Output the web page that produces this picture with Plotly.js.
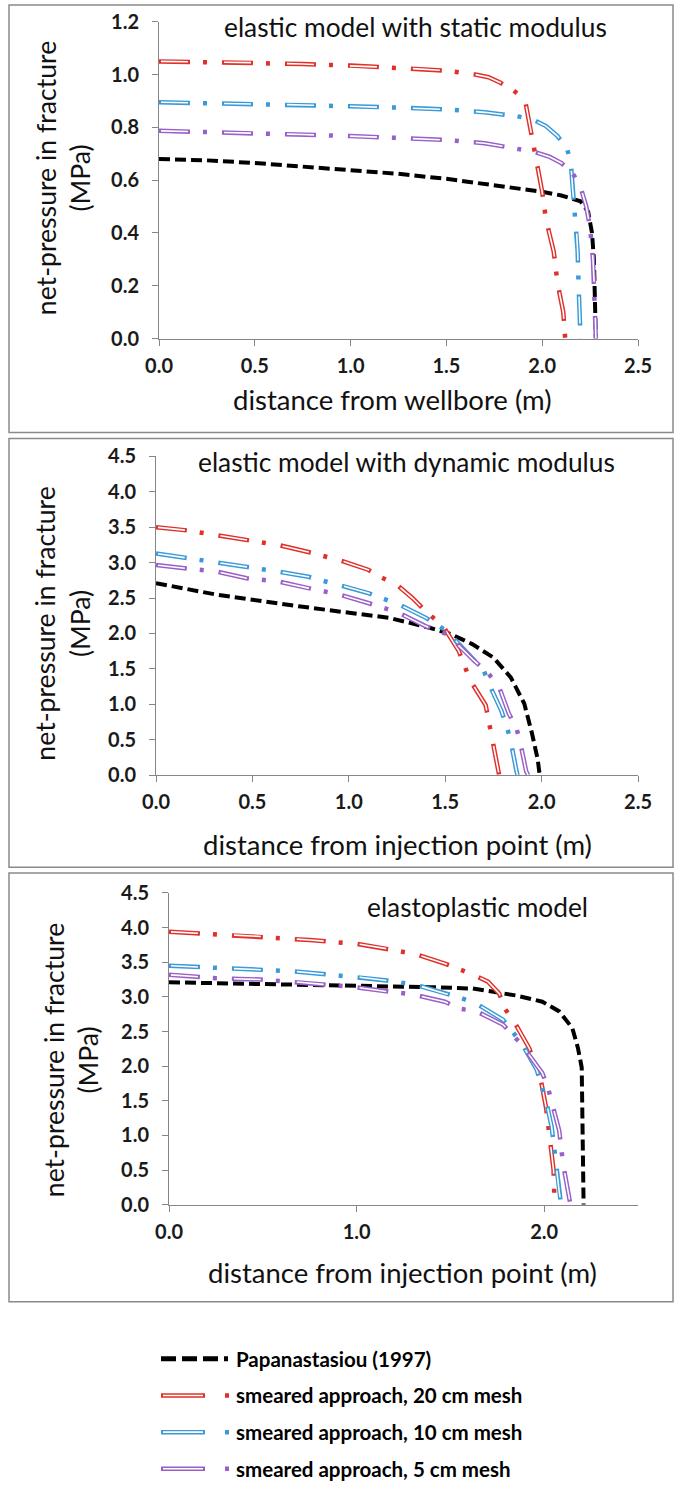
<!DOCTYPE html>
<html>
<head>
<meta charset="utf-8">
<script src="https://cdn.plot.ly/plotly-3.0.1.min.js"></script>
<style>html,body{margin:0;padding:0;background:#fff;}#chart{width:674px;height:1489px;}</style>
</head>
<body>
<div id="chart"></div>
<script>
// ---------- DATA ----------
const seriesNames = ["Papanastasiou (1997)", "smeared approach, 20 cm mesh", "smeared approach, 10 cm mesh", "smeared approach, 5 cm mesh"];
const panelTitles = ["elastic model with static modulus", "elastic model with dynamic modulus", "elastoplastic model"];
const xAxisTitles = ["distance from wellbore (m)", "distance from injection point (m)", "distance from injection point (m)"];
const yAxisTitle = "net-pressure in fracture<br>(MPa)";

// Panel 1: elastic model with static modulus
const papX1 = [0, 0.25, 0.5, 0.75, 1.0, 1.25, 1.5, 1.75, 1.9, 2.0, 2.1, 2.2, 2.24, 2.26, 2.27, 2.275, 2.28];
const papY1 = [0.68, 0.675, 0.665, 0.652, 0.64, 0.624, 0.605, 0.582, 0.566, 0.556, 0.542, 0.52, 0.48, 0.40, 0.30, 0.18, 0.0];
const red1X = [0, 0.25, 0.5, 0.75, 1.0, 1.25, 1.5, 1.65, 1.72, 1.78, 1.85, 1.91, 1.94, 1.97, 2.0, 2.02, 2.06, 2.08, 2.11, 2.12];
const red1Y = [1.05, 1.048, 1.045, 1.04, 1.034, 1.026, 1.015, 1.0, 0.99, 0.97, 0.94, 0.905, 0.79, 0.67, 0.556, 0.45, 0.33, 0.21, 0.10, 0.0];
const blue1X = [0, 0.25, 0.5, 0.75, 1.0, 1.25, 1.5, 1.7, 1.87, 1.95, 2.02, 2.08, 2.13, 2.15, 2.16, 2.175, 2.185, 2.19, 2.195, 2.2];
const blue1Y = [0.895, 0.892, 0.889, 0.885, 0.88, 0.875, 0.868, 0.857, 0.842, 0.83, 0.805, 0.767, 0.72, 0.66, 0.556, 0.46, 0.33, 0.2, 0.09, 0.0];
const purple1X = [0, 0.25, 0.5, 0.75, 1.0, 1.25, 1.5, 1.7, 1.87, 1.96, 2.04, 2.1, 2.16, 2.2, 2.23, 2.25, 2.265, 2.275, 2.28];
const purple1Y = [0.787, 0.783, 0.778, 0.773, 0.767, 0.76, 0.752, 0.74, 0.72, 0.707, 0.688, 0.665, 0.625, 0.575, 0.5, 0.42, 0.3, 0.15, 0.0];

// Panel 2: elastic model with dynamic modulus
const papX2 = [0, 0.31, 0.75, 1.21, 1.42, 1.53, 1.64, 1.75, 1.84, 1.91, 1.95, 1.98, 1.99];
const papY2 = [2.71, 2.55, 2.38, 2.22, 2.08, 1.99, 1.85, 1.66, 1.38, 1.01, 0.59, 0.22, 0.0];
const red2X = [0, 0.16, 0.32, 0.47, 0.64, 0.79, 0.95, 1.10, 1.17, 1.25, 1.33, 1.40, 1.45, 1.49, 1.57, 1.63, 1.71, 1.74, 1.77, 1.78];
const red2Y = [3.5, 3.455, 3.385, 3.315, 3.245, 3.15, 3.035, 2.9, 2.79, 2.686, 2.5, 2.31, 2.2, 2.10, 1.755, 1.336, 0.987, 0.545, 0.10, 0.0];
const blue2X = [0, 0.15, 0.32, 0.47, 0.64, 0.79, 0.95, 1.10, 1.26, 1.40, 1.51, 1.64, 1.70, 1.73, 1.79, 1.82, 1.84, 1.87, 1.875];
const blue2Y = [3.13, 3.07, 3.01, 2.94, 2.87, 2.80, 2.686, 2.57, 2.41, 2.22, 2.03, 1.66, 1.476, 1.27, 0.917, 0.684, 0.475, 0.056, 0.0];
const purple2X = [0, 0.15, 0.32, 0.47, 0.64, 0.79, 0.95, 1.10, 1.26, 1.40, 1.51, 1.65, 1.72, 1.78, 1.83, 1.87, 1.89, 1.92, 1.93];
const purple2Y = [2.966, 2.92, 2.87, 2.78, 2.73, 2.64, 2.55, 2.43, 2.29, 2.10, 1.99, 1.615, 1.45, 1.24, 0.87, 0.66, 0.45, 0.056, 0.0];

// Panel 3: elastoplastic model
const papX3 = [0, 0.94, 1.39, 1.62, 1.85, 1.99, 2.08, 2.15, 2.18, 2.20, 2.205, 2.21];
const papY3 = [3.21, 3.17, 3.14, 3.12, 3.02, 2.93, 2.79, 2.55, 2.26, 1.98, 1.12, 0.0];
const red3X = [0, 0.25, 0.5, 0.75, 1.0, 1.15, 1.31, 1.47, 1.55, 1.63, 1.70, 1.76, 1.79, 1.84, 1.92, 1.95, 1.98, 2.01, 2.03, 2.05, 2.055];
const red3Y = [3.94, 3.905, 3.87, 3.82, 3.765, 3.70, 3.62, 3.48, 3.40, 3.31, 3.22, 3.05, 2.83, 2.64, 2.26, 2.05, 1.83, 1.40, 0.95, 0.5, 0.0];
const blue3X = [0, 0.25, 0.49, 0.66, 0.82, 0.99, 1.15, 1.32, 1.47, 1.55, 1.64, 1.78, 1.83, 1.88, 1.96, 1.99, 2.01, 2.04, 2.06, 2.08, 2.09];
const blue3Y = [3.45, 3.42, 3.39, 3.37, 3.33, 3.29, 3.24, 3.17, 3.05, 2.99, 2.90, 2.67, 2.5, 2.33, 1.95, 1.69, 1.5, 1.12, 0.62, 0.19, 0.0];
const purple3X = [0, 0.25, 0.49, 0.66, 0.82, 0.99, 1.15, 1.31, 1.47, 1.55, 1.64, 1.78, 1.88, 1.99, 2.02, 2.04, 2.08, 2.10, 2.13, 2.14];
const purple3Y = [3.32, 3.27, 3.25, 3.22, 3.18, 3.14, 3.08, 3.03, 2.93, 2.83, 2.79, 2.6, 2.31, 1.90, 1.69, 1.48, 1.07, 0.6, 0.17, 0.0];

const yTickVals1 = [0, 0.2, 0.4, 0.6, 0.8, 1.0, 1.2];
const yTickVals23 = [0, 0.5, 1.0, 1.5, 2.0, 2.5, 3.0, 3.5, 4.0, 4.5];
const xTickVals12 = [0, 0.5, 1.0, 1.5, 2.0, 2.5];
const xTickVals3 = [0, 1.0, 2.0];

// ---------- STYLE ----------
const W = 674, H = 1489;
const FONT = "Lato, 'Open Sans', sans-serif";
const colors = ["#000000", "#e0302a", "#3a9ad8", "#9860c8"];
const DASH_OUT = "31px,13px,4px,15px";
const DASH_IN  = "0px,2px,27px,34px";

const px = v => v / W;
const py = v => 1 - v / H;

// plot areas in pixels [x0, x1, yTop, yBottom]
const areas = [
  [159, 638, 22, 342],
  [156, 638, 461, 783],
  [169, 638, 902, 1217]
];
const boxes = [[9, 5, 673, 437], [9, 443, 673, 876], [9, 882, 673, 1315]];

const panels = [
  {pap: [papX1, papY1], red: [red1X, red1Y], blue: [blue1X, blue1Y], purple: [purple1X, purple1Y]},
  {pap: [papX2, papY2], red: [red2X, red2Y], blue: [blue2X, blue2Y], purple: [purple2X, purple2Y]},
  {pap: [papX3, papY3], red: [red3X, red3Y], blue: [blue3X, blue3Y], purple: [purple3X, purple3Y]}
];

const traces = [];
panels.forEach((p, i) => {
  const xa = i === 0 ? 'x' : 'x' + (i + 1);
  const ya = i === 0 ? 'y' : 'y' + (i + 1);
  traces.push({type: 'scatter', mode: 'lines', x: p.pap[0], y: p.pap[1], xaxis: xa, yaxis: ya,
    line: {color: colors[0], width: 4, dash: '11px,5px'}, showlegend: false, hoverinfo: 'skip'});
  [['red', 1], ['blue', 2], ['purple', 3]].forEach(([k, ci]) => {
    traces.push({type: 'scatter', mode: 'lines', x: p[k][0], y: p[k][1], xaxis: xa, yaxis: ya,
      line: {color: colors[ci], width: 4.5, dash: DASH_OUT}, showlegend: false, hoverinfo: 'skip'});
    traces.push({type: 'scatter', mode: 'lines', x: p[k][0], y: p[k][1], xaxis: xa, yaxis: ya,
      line: {color: '#ffffff', width: 1.6, dash: DASH_IN}, showlegend: false, hoverinfo: 'skip'});
  });
});

// legend entries (outer colored lines in legend, inner white lines in legend2)
traces.push({type: 'scatter', mode: 'lines', x: [null], y: [null], name: seriesNames[0], legend: 'legend', legendgroup: 'a0',
  line: {color: colors[0], width: 5, dash: '15px,6px,15px,6px,15px,6px,4px,300px'}, hoverinfo: 'skip'});
for (let s = 1; s < 4; s++) {
  traces.push({type: 'scatter', mode: 'lines', x: [null], y: [null], name: seriesNames[s], legend: 'legend', legendgroup: 'a' + s,
    line: {color: colors[s], width: 4.5, dash: '44px,20px,4px,300px'}, hoverinfo: 'skip'});
}
traces.push({type: 'scatter', mode: 'lines', x: [null], y: [null], name: seriesNames[0], legend: 'legend2', legendgroup: 'b0',
  line: {color: 'rgba(0,0,0,0)', width: 1}, hoverinfo: 'skip'});
for (let s = 1; s < 4; s++) {
  traces.push({type: 'scatter', mode: 'lines', x: [null], y: [null], name: seriesNames[s], legend: 'legend2', legendgroup: 'b' + s,
    line: {color: '#ffffff', width: 1.6, dash: '0px,2px,40px,300px'}, hoverinfo: 'skip'});
}

const axisCommon = {
  showline: true, linecolor: '#868686', linewidth: 1, ticks: 'outside', ticklen: 6, tickcolor: '#868686',
  showgrid: false, zeroline: false, tickformat: '.1f', fixedrange: true,
  tickfont: {family: FONT, size: 20, color: '#1a1a1a', weight: 'bold'}
};

const legendCommon = {x: px(156), y: py(1353), xanchor: 'left', yanchor: 'top', bgcolor: 'rgba(0,0,0,0)',
  itemwidth: 70, tracegroupgap: 7, traceorder: 'grouped', itemclick: false};

const layout = {
  width: W, height: H, margin: {l: 0, r: 0, t: 0, b: 0},
  paper_bgcolor: '#ffffff', plot_bgcolor: 'rgba(0,0,0,0)',
  font: {family: FONT},
  showlegend: true,
  legend: Object.assign({}, legendCommon, {font: {family: FONT, size: 20.5, color: '#000', weight: 'bold'}}),
  legend2: Object.assign({}, legendCommon, {font: {family: FONT, size: 20.5, color: 'rgba(0,0,0,0)', weight: 'bold'}}),
  shapes: boxes.map(b => ({type: 'rect', xref: 'paper', yref: 'paper', x0: px(b[0]), x1: px(b[2]), y0: py(b[3]), y1: py(b[1]),
    line: {color: '#8a8a8a', width: 1.5}, fillcolor: 'rgba(0,0,0,0)', layer: 'below'})),
  annotations: []
};

areas.forEach((a, i) => {
  const sfx = i === 0 ? '' : String(i + 1);
  layout['xaxis' + sfx] = Object.assign({}, axisCommon, {
    domain: [px(a[0]), px(a[1])], range: [0, 2.5], tickvals: i === 2 ? xTickVals3 : xTickVals12,
    anchor: 'y' + sfx, ticklabelstandoff: 3
  });
  layout['yaxis' + sfx] = Object.assign({}, axisCommon, {
    domain: [py(a[3]), py(a[2])], range: i === 0 ? [0, 1.2] : [0, 4.5], tickvals: i === 0 ? yTickVals1 : yTickVals23,
    anchor: 'x' + sfx, ticklabelstandoff: 9
  });
});

const titlePos = [[415, 27], [406, 467], [478, 916]];
const xTitlePos = [[392, 404], [397, 853], [402, 1285]];
const yTitlePos = [[63, 180], [63, 630], [71, 1071]];
for (let i = 0; i < 3; i++) {
  layout.annotations.push({xref: 'paper', yref: 'paper', x: px(titlePos[i][0]), y: py(titlePos[i][1]),
    xanchor: 'center', yanchor: 'middle', showarrow: false, text: panelTitles[i],
    font: {family: FONT, size: 26.3, color: '#111'}});
  layout.annotations.push({xref: 'paper', yref: 'paper', x: px(xTitlePos[i][0]), y: py(xTitlePos[i][1]),
    xanchor: 'center', yanchor: 'middle', showarrow: false, text: xAxisTitles[i],
    font: {family: FONT, size: 27.5, color: '#111'}});
  layout.annotations.push({xref: 'paper', yref: 'paper', x: px(yTitlePos[i][0]), y: py(yTitlePos[i][1]),
    xanchor: 'center', yanchor: 'middle', showarrow: false, text: yAxisTitle, textangle: -90,
    font: {family: FONT, size: 26.6, color: '#111'}});
}

Plotly.newPlot('chart', traces, layout, {staticPlot: true, displayModeBar: false});
</script>
</body>
</html>
